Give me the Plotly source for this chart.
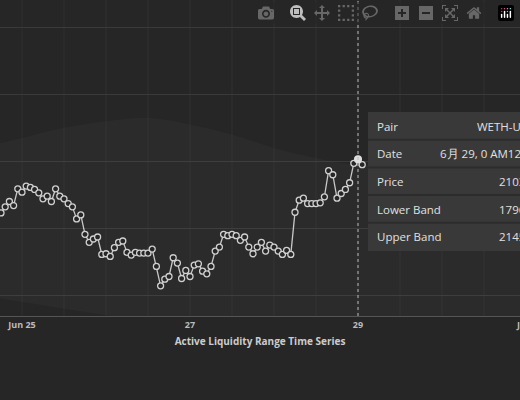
import plotly.graph_objects as go
import pandas as pd

price = [2023,2032,2040,2034,2059,2054,2063,2061,2058,2053,2044,2048,2040,2059,2048,2044,2037,2032,2014,2020,
         1991,1979,1984,1987,1961,1962,1958,1971,1979,1981,1964,1960,1964,1963,1963,1963,1969,1943,1914,1924,
         1928,1956,1948,1925,1937,1928,1945,1947,1936,1932,1943,1966,1972,1991,1989,1991,1989,1982,1987,1972,
         1962,1972,1979,1966,1975,1972,1966,1961,1967,1961,2024,2042,2045,2037,2037,2037,2038,2047,2086,2080,
         2045,2052,2058,2068,2097,2103,2095]
times = pd.date_range(end="2023-06-29 01:12", periods=len(price), freq="72min")

band_times = pd.date_range("2023-06-24 12:00", "2023-07-01 00:00", freq="12h")
upper = [2120,2135,2150,2160,2165,2155,2140,2120,2105,2095,2100,2115,2130,2145]
lower = [1900,1890,1880,1870,1860,1850,1840,1830,1820,1810,1800,1796,1800,1810]

hover_time = pd.Timestamp("2023-06-29 00:00")
hover_price = 2103

fig = go.Figure()
fig.add_trace(go.Scatter(x=band_times, y=upper, mode="lines", line=dict(width=0, shape="spline"), showlegend=False, hoverinfo="skip"))
fig.add_trace(go.Scatter(x=band_times, y=lower, mode="lines", line=dict(width=0, shape="spline"), fill="tonexty",
                         fillcolor="rgba(255,255,255,0.025)", showlegend=False, hoverinfo="skip"))
fig.add_trace(go.Scatter(x=times, y=price, mode="lines+markers", line=dict(color="#c8c8c8", width=1.3),
                         marker=dict(size=6, color="#262626", line=dict(color="#d0d0d0", width=1.3)), showlegend=False))
fig.add_trace(go.Scatter(x=[hover_time], y=[hover_price], mode="markers",
                         marker=dict(size=8, color="#dddddd"), showlegend=False))
fig.add_shape(type="line", x0=hover_time, x1=hover_time, y0=0, y1=1, yref="paper",
              line=dict(color="#bbbbbb", width=1, dash="dot"))

W, H = 520, 400
PH = 316  # plot area height in px
def px(x): return x / W
def py(y): return 1 - y / PH
fig.add_shape(type="rect", xref="paper", yref="paper", x0=px(368), x1=px(530), y0=py(112), y1=py(251),
              fillcolor="rgba(58,58,58,0.97)", line=dict(width=0), layer="above")
rows = [("Pair", "WETH-USDC", 475), ("Date", "6月 29, 0 AM12:00", 438), ("Price", "2103.21", 497),
        ("Lower Band", "1796.45", 497), ("Upper Band", "2145.32", 497)]
for i, (k, v, vx) in enumerate(rows):
    yc = 126 + i * 27.7
    fig.add_annotation(xref="paper", yref="paper", x=px(375), y=py(yc), text=k, showarrow=False,
                       xanchor="left", yanchor="middle", font=dict(color="#e0e0e0", size=11.5))
    fig.add_annotation(xref="paper", yref="paper", x=px(vx), y=py(yc), text=v, showarrow=False,
                       xanchor="left", yanchor="middle", font=dict(color="#e0e0e0", size=11.5))
    if i > 0:
        fig.add_shape(type="line", xref="paper", yref="paper", x0=px(368), x1=px(530),
                      y0=py(yc - 14), y1=py(yc - 14), line=dict(color="#2c2c2c", width=2), layer="above")

fig.add_annotation(xref="paper", yref="paper", x=px(526), y=py(324), text="<b>Jul 1</b>", showarrow=False,
                   xanchor="center", yanchor="middle", font=dict(color="#bbbbbb", size=9))

fig.update_layout(
    width=W, height=H, paper_bgcolor="#262626", plot_bgcolor="#262626",
    margin=dict(l=0, r=0, t=0, b=84),
    font=dict(family="Open Sans", color="#bbbbbb"),
    xaxis=dict(range=["2023-06-24 17:43", "2023-06-30 22:17"], showgrid=False,
               tickvals=["2023-06-25", "2023-06-27", "2023-06-29"],
               ticktext=["<b>Jun 25</b>", "<b>27</b>", "<b>29</b>"], tickfont=dict(size=9, color="#bbbbbb"),
               zeroline=False, showline=True, linecolor="#555555",
               title=dict(text="<b>Active Liquidity Range Time Series</b>", font=dict(size=10, color="#cccccc"), standoff=8)),
    yaxis=dict(range=[1869, 2341], showgrid=True, gridcolor="#3a3a3a", dtick=100, showticklabels=False, zeroline=False),
)
for t in pd.date_range("2023-06-24 12:00", "2023-07-01", freq="12h"):
    fig.add_vline(x=t, line=dict(color="#303030", width=1), layer="below")
fig.write_html("out.html", post_script="document.body.style.margin='0';document.body.style.background='#262626';")
